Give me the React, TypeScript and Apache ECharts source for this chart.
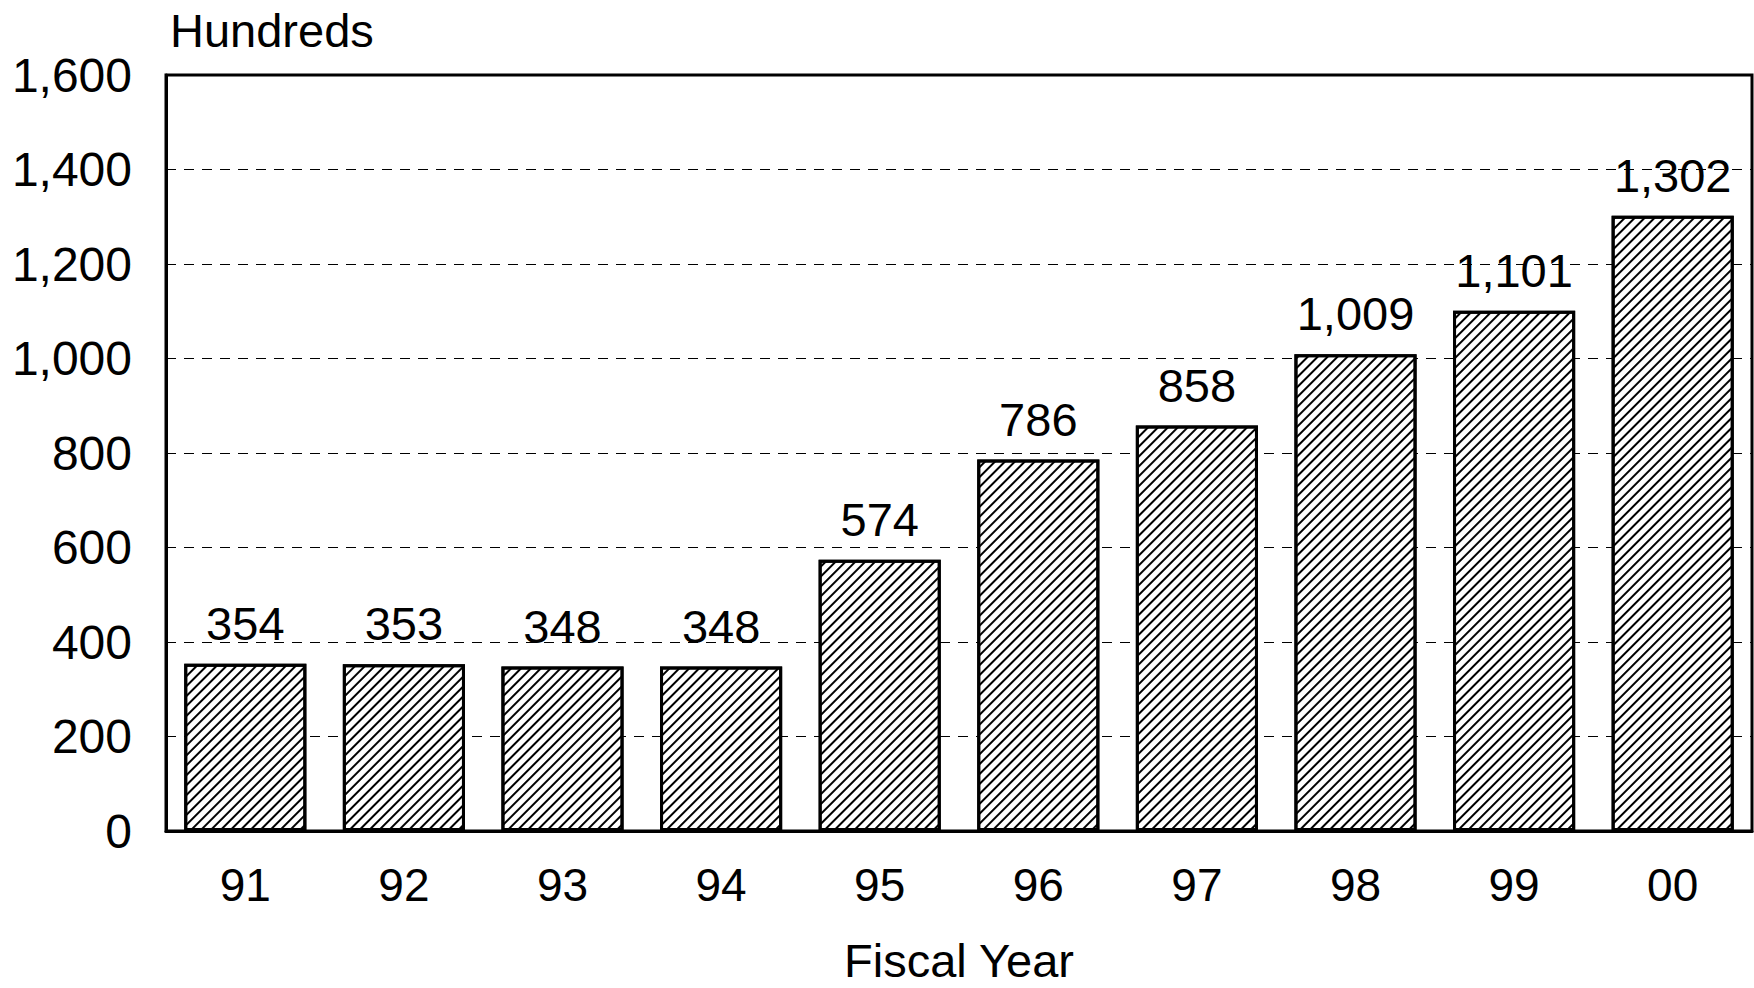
import React, { useEffect, useRef } from "react";
import * as echarts from "echarts";

const years = ["91", "92", "93", "94", "95", "96", "97", "98", "99", "00"];
const values = [354, 353, 348, 348, 574, 786, 858, 1009, 1101, 1302];
const yTicks = [0, 200, 400, 600, 800, 1000, 1200, 1400, 1600];
const unitLabel = "Hundreds";
const xTitle = "Fiscal Year";

const FONT = "'Liberation Sans', Arial, sans-serif";

export default function App() {
  const ref = useRef<HTMLDivElement>(null);
  useEffect(() => {
    if (!ref.current) return;
    const chart = echarts.init(ref.current, null, { renderer: "svg" });
    chart.setOption({
      animation: false,
      backgroundColor: "#fff",
      textStyle: { fontFamily: FONT, color: "#000" },
      title: {
        text: unitLabel,
        left: 165,
        top: 2,
        textStyle: { fontFamily: FONT, fontSize: 47, fontWeight: "normal", color: "#000" },
      },
      grid: {
        left: 166,
        right: 2,
        top: 75,
        bottom: 157,
        outerBoundsMode: "none",
        containLabel: false,
        show: true,
        borderColor: "#000",
        borderWidth: 3,
        backgroundColor: "transparent",
      },
      xAxis: {
        type: "category",
        data: years,
        name: xTitle,
        nameLocation: "middle",
        nameGap: 106,
        nameTextStyle: { fontFamily: FONT, fontSize: 47, color: "#000" },
        axisLine: { show: true, lineStyle: { color: "#000", width: 3 } },
        axisTick: { show: false },
        axisLabel: { fontFamily: FONT, fontSize: 46, color: "#000", margin: 31 },
      },
      yAxis: {
        type: "value",
        min: yTicks[0],
        max: yTicks[yTicks.length - 1],
        interval: 200,
        axisLine: { show: true, lineStyle: { color: "#000", width: 3 } },
        axisTick: { show: false },
        axisLabel: {
          fontFamily: FONT,
          fontSize: 48,
          color: "#000",
          margin: 34,
          formatter: (v: number) => v.toLocaleString("en-US"),
        },
        splitLine: {
          show: true,
          lineStyle: { color: "#000", width: 1.2, type: [10, 8] },
        },
      },
      series: [
        {
          type: "bar",
          data: values,
          barCategoryGap: "23%",
          itemStyle: {
            color: "#fff",
            borderColor: "#000",
            borderWidth: 3,
            decal: {
              symbol: "rect",
              color: "#000",
              backgroundColor: "#fff",
              dashArrayX: [1, 0],
              dashArrayY: [1.5, 4.5],
              rotation: -Math.PI / 4,
            },
          },
          label: {
            show: true,
            position: "top",
            distance: 17,
            fontFamily: FONT,
            fontSize: 47,
            color: "#000",
            formatter: (p: any) => Number(p.value).toLocaleString("en-US"),
          },
        },
      ],
    });
    return () => chart.dispose();
  }, []);
  return (
    <div
      ref={ref}
      style={{ position: "fixed", left: 0, top: 0, width: 1754, height: 988, background: "#fff" }}
    />
  );
}
